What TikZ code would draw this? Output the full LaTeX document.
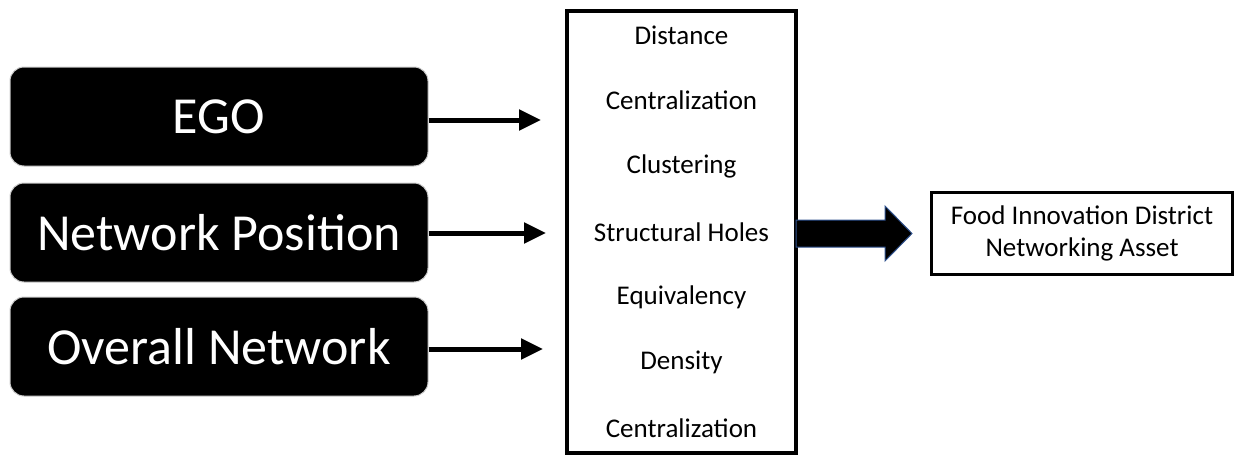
\documentclass[tikz,border=0pt]{standalone}
\usepackage{fontspec}
\setmainfont{Carlito}
\usetikzlibrary{arrows.meta}
\definecolor{arrowedge}{HTML}{2F528F}
\tikzset{
  blackbox/.style={draw=black!20, line width=1pt, fill=black, rounded corners=14pt, text=white, minimum width=418pt, minimum height=99pt, inner sep=0pt, font=\fontsize{52}{60}\selectfont},
  feed/.style={line width=5pt, -{Triangle[length=22pt,width=20pt]}},
  item/.style={font=\fontsize{27}{32}\selectfont, inner sep=0pt},
  framebox/.style={draw=black, line width=3.5pt, inner sep=0pt},
  bigarrow/.style={draw=arrowedge, line width=1pt, fill=black, line join=miter}
}
\begin{document}
\begin{tikzpicture}[x=1pt,y=-1pt]
\useasboundingbox (0,0) rectangle (1243,455);
\node[blackbox] (ego) at (219,116.5) {EGO};
\node[blackbox] (pos) at (219,232.5) {Network Position};
\node[blackbox] (ovr) at (219,346.5) {Overall Network};
\node[framebox, minimum width=229pt, minimum height=442pt] (mid) at (681.5,232) {};
\node[item] (d1) at (681.5,35) {Distance};
\node[item] (d2) at (681.5,100) {Centralization};
\node[item] (d3) at (681.5,166) {Clustering};
\node[item] (d4) at (681.5,232) {Structural Holes};
\node[item] (d5) at (681.5,297) {Equivalency};
\node[item] (d6) at (681.5,362) {Density};
\node[item] (d7) at (681.5,428) {Centralization};
\node[framebox, minimum width=301pt, minimum height=82pt, align=center, font=\fontsize{27}{32}\selectfont] (out) at (1082,233.5) {Food Innovation District\\Networking Asset};
\coordinate (a1) at (541,120);
\coordinate (a2) at (546,233);
\coordinate (a3) at (543,349);
\draw[feed] (ego.east |- a1) -- (a1);
\draw[feed] (pos.east |- a2) -- (a2);
\draw[feed] (ovr.east |- a3) -- (a3);
\draw[bigarrow] (796,220) -- (885,220) -- (885,206) -- (912,233.5) -- (885,261) -- (885,247) -- (796,247) -- cycle;
\end{tikzpicture}
\end{document}
